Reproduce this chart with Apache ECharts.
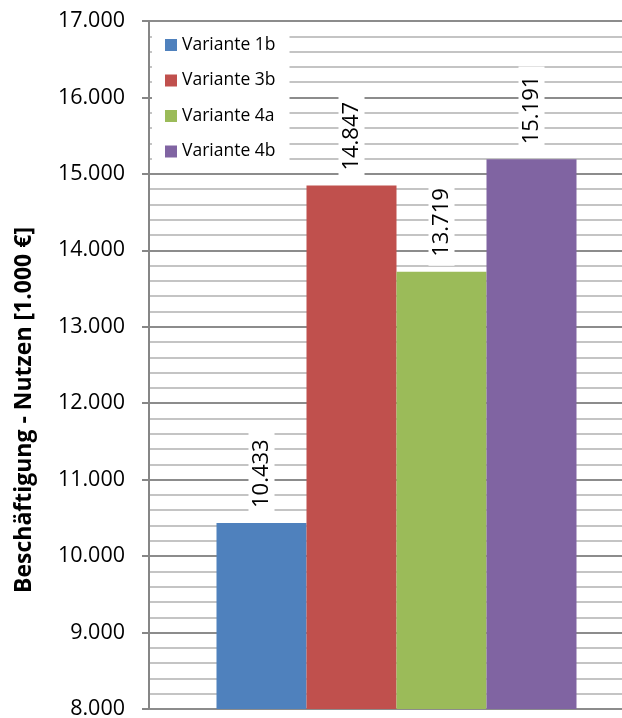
<!DOCTYPE html>
<html>
<head>
<meta charset="utf-8">
<script src="https://cdn.jsdelivr.net/npm/echarts@6/dist/echarts.min.js"></script>
<style>
  html, body { margin: 0; padding: 0; background: #fff; }
  #chart { width: 622px; height: 718px; }
</style>
</head>
<body>
<div id="chart"></div>
<script>
// Employment benefit per scenario, in thousands of euro
const seriesNames = ['Variante 1b', 'Variante 3b', 'Variante 4a', 'Variante 4b'];
const seriesValues = [10433, 14847, 13719, 15191];
const seriesColors = ['#4f81bd', '#c0504d', '#9bbb59', '#8064a2'];
const yMin = 8000;
const yMax = 17000;
const yStep = 1000;
const axisTitle = 'Beschäftigung - Nutzen [1.000 €]';

const FONT = '"Open Sans", sans-serif';

// German number format: dot as thousands separator
function fmt(v) {
  const s = String(Math.round(v));
  return s.replace(/\B(?=(\d{3})+(?!\d))/g, '.');
}

const chart = echarts.init(document.getElementById('chart'), null, { renderer: 'canvas' });

const series = seriesNames.map((name, i) => ({
  name: name,
  type: 'bar',
  data: [seriesValues[i]],
  barWidth: 90,
  barGap: '0%',
  itemStyle: { color: seriesColors[i] },
  label: {
    show: true,
    position: 'top',
    rotate: 90,
    align: 'left',
    verticalAlign: 'middle',
    distance: 6,
    formatter: p => fmt(p.value),
    fontFamily: FONT,
    fontSize: 22,
    color: '#000',
    backgroundColor: '#fff',
    padding: [2, 9, 2, 9]
  },
  emphasis: { disabled: true }
}));

chart.setOption({
  animation: false,
  // the plot area runs past the right edge of the canvas
  grid: { left: 149, top: 21, bottom: 9, right: -22, outerBoundsMode: 'none', containLabel: false },
  legend: {
    data: seriesNames,
    orient: 'vertical',
    left: 152,
    top: 22,
    backgroundColor: '#fff',
    padding: [14, 14, 8, 13],
    itemWidth: 12,
    itemHeight: 12,
    itemGap: 17.5,
    icon: 'rect',
    selectedMode: false,
    textStyle: { fontFamily: FONT, fontSize: 17.5, color: '#000', lineHeight: 18 }
  },
  xAxis: {
    type: 'category',
    data: [''],
    axisLine: { show: true, lineStyle: { color: '#8c8c8c', width: 1 } },
    axisTick: { show: false },
    axisLabel: { show: false },
    splitLine: { show: false }
  },
  yAxis: {
    type: 'value',
    min: yMin,
    max: yMax,
    interval: yStep,
    axisLine: { show: true, lineStyle: { color: '#868686', width: 2 } },
    axisTick: { show: true, length: 7, inside: false, lineStyle: { color: '#868686', width: 2 } },
    axisLabel: {
      formatter: v => fmt(v),
      fontFamily: FONT,
      fontSize: 21.5,
      color: '#000',
      margin: 24
    },
    splitLine: { show: true, lineStyle: { color: '#8c8c8c', width: 2 } },
    minorTick: { show: false, splitNumber: 5 },
    minorSplitLine: { show: true, lineStyle: { color: '#c4c4c4', width: 2 } }
  },
  graphic: [{
    type: 'text',
    x: 24,
    y: 410,
    rotation: Math.PI / 2,
    style: {
      text: axisTitle,
      fontFamily: FONT,
      fontWeight: 'bold',
      fontSize: 23,
      fill: '#000',
      textAlign: 'center',
      textVerticalAlign: 'middle'
    }
  }],
  series: series
});
</script>
</body>
</html>
